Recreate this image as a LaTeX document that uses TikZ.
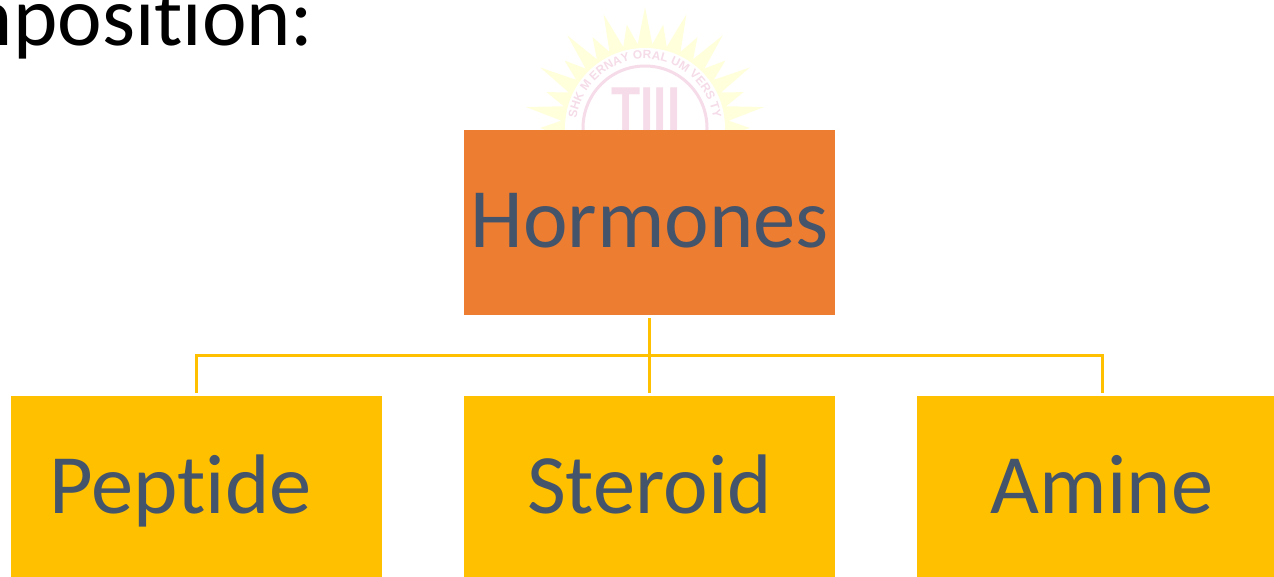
\documentclass[tikz,border=0pt]{standalone}
\usepackage{fontspec}
\setmainfont{Carlito}[Ligatures=NoCommon]
\newfontfamily\wmfont{Liberation Sans}
\usetikzlibrary{decorations.text}
\definecolor{orangebox}{HTML}{ED7D31}
\definecolor{goldbox}{HTML}{FFC000}
\definecolor{slatetext}{HTML}{44546A}
\definecolor{sunray}{HTML}{FFFFDC}
\definecolor{wmpink}{HTML}{F5DCE8}
\tikzset{
  x=1pt,y=-1pt,
  boxbase/.style={rectangle,inner sep=0pt,outer sep=0pt,minimum width=371pt,minimum height=185pt,
    text height=57pt,text depth=8pt,text=slatetext,font=\fontsize{84.5}{84.5}\selectfont},
  topbox/.style={boxbase,fill=orangebox},
  leafbox/.style={boxbase,fill=goldbox},
  conn/.style={draw=goldbox,line width=3pt,line join=miter}
}
\begin{document}
\begin{tikzpicture}
\path[use as bounding box,clip] (0,0) rectangle (1274,576);
% clipped title
\node[anchor=base east,inner sep=0pt,font=\fontsize{84.5}{84.5}\selectfont,text=black] (title) at (314,45) {Composition:};
% watermark
\fill[sunray] plot[samples at={185,180,...,-5},variable=\a] ({645+(mod(round(\a),20)==10 ? 121 : (mod(round(\a),10)==0 ? 105 : 84))*cos(\a)},{128-(mod(round(\a),20)==10 ? 121 : (mod(round(\a),10)==0 ? 105 : 84))*sin(\a)}) -- cycle;
\fill[white] (645,128) circle[radius=80];
\draw[wmpink,line width=3pt] (645,128) circle[radius=62];
\path[decorate,decoration={text along path,text align=center,
  text={|\wmfont\bfseries\fontsize{12}{12}\selectfont\color{wmpink}|SHK M ERNAY ORAL UM VERS TY}}]
  (577,140) arc[start angle=170,end angle=370,radius=69];
\node[anchor=base,inner sep=0pt,font=\wmfont\bfseries\fontsize{62}{62}\selectfont,text=wmpink] (wmletters) at (646,130) {\scalebox{.77}[1]{TIII}};
% boxes
\node[topbox] (hormones) at (649.5,222.5) {Hormones};
\node[leafbox] (peptide) at (196.5,488.5) {Peptide\hspace{32pt}\null};
\node[leafbox] (steroid) at (649.5,488.5) {Steroid};
\node[leafbox] (amine) at (1102,488.5) {Amine};
% connectors
\draw[conn,shorten <=3pt,shorten >=3pt] (hormones.south) -- (steroid.north);
\draw[conn,shorten >=3pt] (hormones.south) ++(0,40) -| (peptide.north);
\draw[conn,shorten >=3pt] (hormones.south) ++(0,40) -| (amine.north);
\end{tikzpicture}
\end{document}
